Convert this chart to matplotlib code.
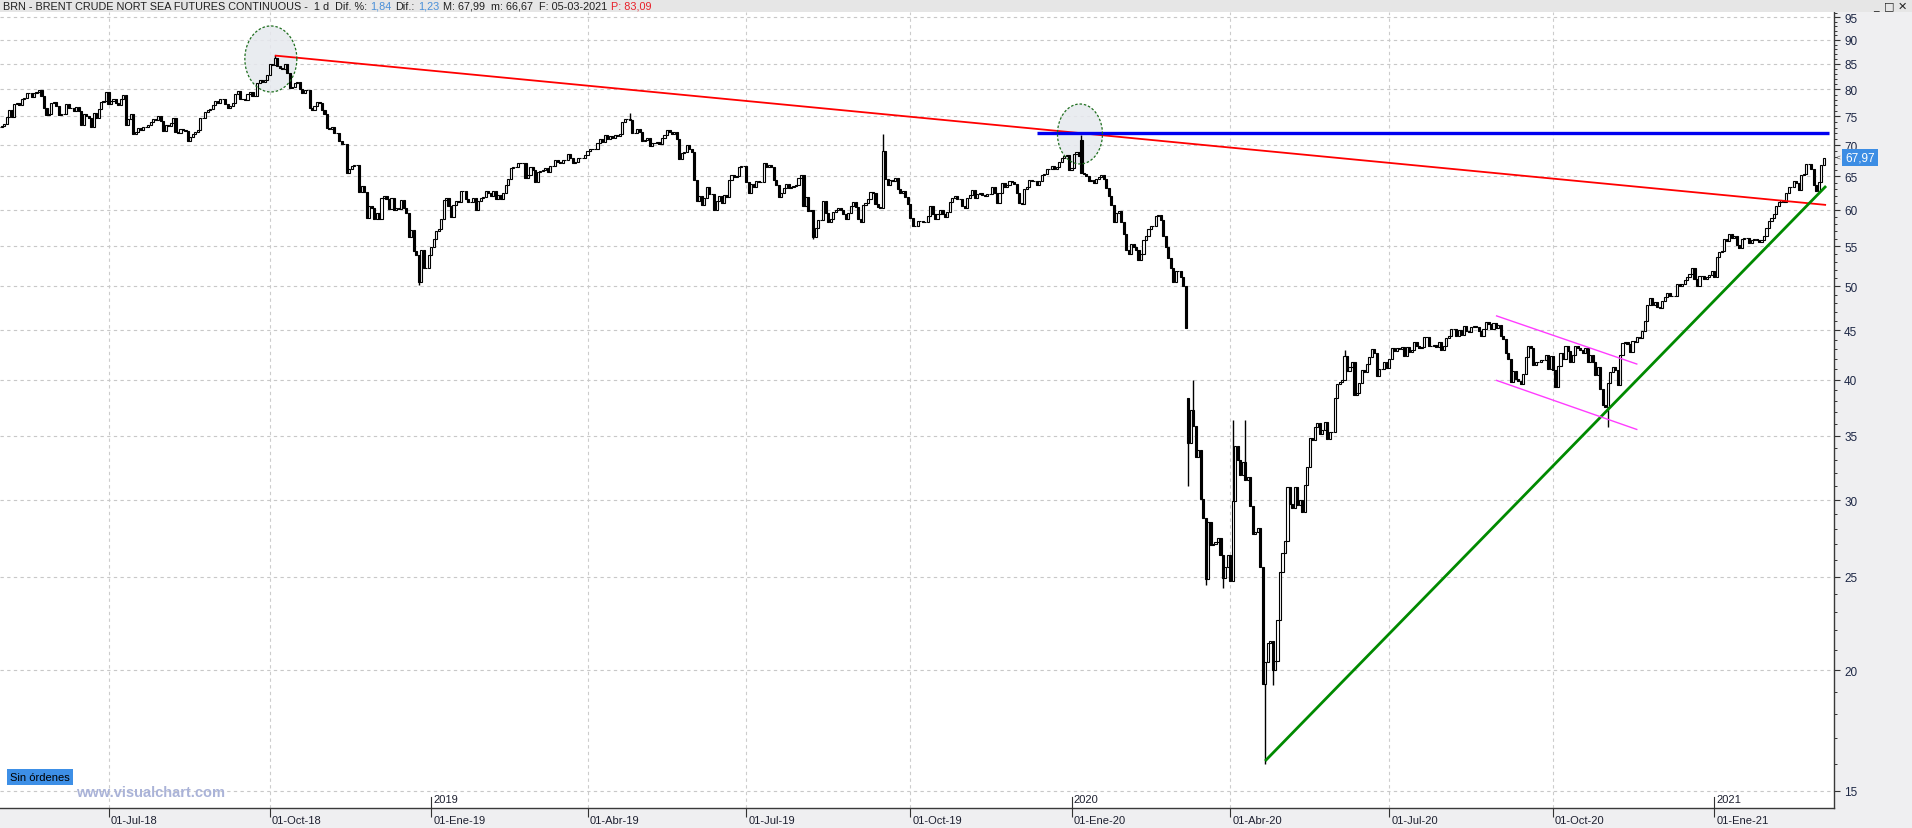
import numpy as np
import pandas as pd
import matplotlib
matplotlib.use("Agg")
import matplotlib.pyplot as plt
from matplotlib.patches import Rectangle
from matplotlib.ticker import FixedLocator, NullFormatter, FuncFormatter
from matplotlib.transforms import offset_copy

plt.rcParams['font.family'] = ['Liberation Sans', 'DejaVu Sans']

W, H = 1912, 829
PLOT_TOP, PLOT_BOTTOM, PLOT_RIGHT = 13, 809, 1834

# daily closes, one line per month (first bar: 01-May-2018)
close_2018 = [
    73.13, 73.36, 73.62, 74.87, 76.17, 74.85, 77.21, 77.47, 77.12, 78.23, 78.43, 79.28, 79.30, 78.51, 79.22, 79.57, 79.80, 78.79, 76.44, 75.30, 75.39, 77.50, 77.59,
    76.79, 75.29, 75.38, 75.36, 77.32, 76.46, 76.46, 75.88, 76.74, 75.94, 73.44, 75.34, 75.08, 74.74, 73.05, 75.55, 74.73, 76.31, 77.62, 77.85, 79.44,
    77.30, 77.76, 78.24, 77.39, 77.11, 78.07, 78.86, 73.40, 74.45, 75.33, 71.84, 72.16, 72.90, 72.58, 73.07, 73.06, 73.44, 73.93, 74.54, 74.29, 74.97, 74.25,
    72.39, 73.45, 73.21, 73.75, 74.65, 72.28, 72.07, 72.81, 72.61, 72.46, 70.76, 71.43, 71.83, 72.21, 72.63, 74.78, 74.73, 75.82, 76.21, 76.31, 77.14, 77.77, 77.42,
    78.15, 78.17, 77.27, 76.50, 76.83, 77.37, 79.06, 79.74, 78.18, 78.09, 78.05, 79.03, 79.40, 78.70, 78.80, 81.20, 81.87, 81.34, 81.72, 82.72,
    84.98, 84.80, 86.29, 84.58, 84.16, 83.91, 84.99, 83.09, 80.26, 80.43, 81.14, 81.41, 80.05, 79.29, 79.78, 79.83, 76.44, 76.17, 76.89, 77.62, 77.34, 76.17, 75.47,
    72.89, 72.83, 73.17, 72.13, 72.07, 70.65, 70.18, 70.12, 65.47, 66.12, 66.62, 66.76, 66.79, 62.53, 63.48, 62.60, 58.80, 60.48, 60.21, 58.76, 59.51, 58.71,
    61.69, 62.08, 61.56, 60.06, 61.67, 59.97, 60.20, 60.15, 61.45, 60.28, 59.61, 56.26, 57.24, 54.35, 53.82, 50.47, 54.47, 52.16, 52.20, 53.80,
]
close_2019 = [
    54.91, 55.95, 57.06, 57.33, 58.72, 61.44, 61.68, 60.48, 58.99, 60.64, 61.32, 61.18, 62.70, 62.74, 61.50, 61.14, 61.09, 61.64, 59.93, 61.32, 61.65, 61.89,
    62.75, 62.51, 61.98, 62.69, 61.63, 62.10, 61.51, 62.42, 63.61, 64.57, 66.25, 66.50, 66.45, 67.08, 67.07, 67.12, 64.76, 65.21, 66.39, 66.03,
    64.07, 65.67, 65.86, 65.99, 66.30, 65.74, 66.58, 66.67, 67.55, 67.23, 67.16, 67.54, 67.61, 68.50, 67.86, 67.03, 67.21, 67.97, 67.83, 67.82, 68.39,
    69.01, 69.37, 69.31, 69.40, 70.34, 71.10, 70.61, 71.73, 71.02, 71.55, 71.18, 71.72, 71.62, 71.97, 74.04, 74.51, 74.57, 74.35, 72.15, 72.04, 72.80,
    72.18, 70.75, 70.85, 71.24, 69.88, 70.37, 70.39, 70.62, 70.23, 71.24, 71.77, 72.62, 72.21, 71.97, 72.18, 70.99, 67.76, 68.69, 68.90, 70.11, 69.45, 68.87, 64.49,
    61.28, 61.97, 60.63, 61.67, 63.29, 62.29, 62.29, 59.97, 61.31, 62.01, 60.94, 62.14, 61.82, 64.45, 65.20, 64.86, 65.05, 66.49, 66.55, 66.55,
    64.06, 62.40, 63.82, 63.30, 64.23, 64.11, 64.16, 67.01, 66.52, 66.72, 66.48, 64.35, 63.66, 61.93, 62.47, 63.26, 63.83, 63.18, 63.39, 63.46, 63.71, 64.72, 65.17,
    60.50, 61.89, 59.81, 60.02, 56.23, 57.38, 58.53, 58.57, 61.30, 59.48, 58.23, 58.64, 59.74, 60.03, 60.30, 59.92, 59.34, 58.70, 59.51, 60.49, 61.08, 60.43,
    58.66, 58.26, 60.70, 60.95, 61.54, 62.59, 62.38, 60.81, 60.38, 60.22, 69.02, 64.55, 63.60, 64.40, 64.28, 64.77, 63.10, 62.39, 62.74, 61.91, 60.78,
    58.89, 57.69, 57.71, 58.37, 58.35, 58.24, 58.32, 59.10, 60.51, 59.35, 58.74, 59.42, 59.91, 59.42, 58.96, 59.70, 61.17, 61.67, 62.02, 61.57, 61.59, 60.61, 60.23,
    61.69, 62.13, 62.96, 61.74, 62.29, 62.51, 62.18, 62.06, 62.37, 62.28, 63.30, 62.44, 60.91, 62.40, 63.97, 63.39, 63.65, 64.27, 64.06, 63.87, 62.43,
    60.92, 60.82, 62.99, 63.39, 64.39, 64.25, 64.34, 63.72, 64.20, 65.22, 65.34, 66.10, 66.17, 66.54, 66.14, 66.39, 67.20, 67.92, 68.16, 68.44, 66.00,
]
close_2020 = [
    66.25, 68.60, 68.91, 68.27, 65.44, 65.37, 64.98, 64.20, 64.49, 64.00, 64.62, 64.85, 65.20, 64.59, 63.21, 62.04, 60.69, 58.32, 59.51, 59.81, 58.29, 56.62,
    54.45, 53.96, 55.28, 54.93, 54.47, 53.27, 54.01, 55.79, 56.34, 57.32, 57.67, 57.75, 59.12, 59.31, 58.50, 56.30, 54.95, 53.43, 52.18, 50.52,
    51.90, 51.86, 51.13, 49.99, 45.27, 34.36, 37.22, 35.79, 33.22, 33.85, 30.05, 28.73, 24.88, 28.47, 26.98, 27.03, 27.15, 27.39, 26.34, 24.93, 25.60, 26.35,
    24.74, 29.94, 34.11, 33.05, 31.87, 32.84, 31.48, 31.74, 29.60, 27.69, 27.82, 28.08, 25.57, 19.33, 20.37, 21.33, 21.44, 19.99, 20.46, 22.54, 25.27,
    26.44, 27.20, 30.97, 29.72, 29.46, 30.97, 29.63, 29.98, 29.19, 31.13, 32.50, 34.81, 34.65, 35.75, 36.06, 35.13, 35.50, 36.17, 34.74, 35.29, 35.33,
    38.32, 39.57, 39.79, 39.99, 42.30, 40.80, 41.18, 41.73, 38.55, 38.73, 39.72, 40.96, 40.71, 41.51, 42.19, 43.08, 42.63, 40.31, 41.05, 41.02, 41.71, 41.15,
    42.03, 43.14, 42.80, 43.10, 43.08, 43.29, 42.35, 43.24, 42.72, 42.90, 43.79, 43.37, 43.14, 43.28, 44.32, 44.29, 43.31, 43.34, 43.41, 43.22, 43.75, 42.94, 43.30,
    44.15, 44.43, 45.17, 45.09, 44.40, 44.99, 44.50, 45.43, 44.96, 44.80, 45.37, 45.46, 45.37, 44.90, 44.35, 45.13, 45.86, 45.64, 45.09, 45.81, 45.28,
    45.58, 44.43, 44.07, 42.66, 42.01, 39.78, 40.79, 40.06, 39.83, 39.61, 40.53, 42.22, 43.30, 43.15, 41.44, 41.72, 41.77, 41.94, 41.92, 42.43, 41.03, 42.30,
    40.93, 39.27, 41.29, 42.65, 41.99, 43.34, 42.85, 41.72, 42.45, 43.32, 43.16, 42.93, 42.62, 43.16, 41.73, 42.46, 41.77, 40.46, 41.20, 39.12, 37.65, 37.46,
    39.71, 40.71, 41.23, 40.93, 39.45, 42.40, 43.61, 43.80, 43.53, 42.78, 43.82, 43.75, 44.34, 44.20, 44.96, 46.06, 47.86, 48.61, 47.80, 48.18, 47.59,
    47.42, 48.25, 48.71, 49.25, 48.79, 48.84, 48.86, 50.25, 49.97, 50.29, 50.76, 51.08, 51.50, 52.26, 50.91, 50.08, 51.20, 51.29, 50.86, 51.09, 51.34, 51.80,
]
close_2021 = [
    51.09, 53.60, 54.30, 54.38, 55.99, 55.66, 56.58, 56.06, 56.42, 55.10, 54.75, 55.90, 56.08, 56.10, 55.41, 55.88, 55.91, 55.81, 55.53, 55.88,
    56.35, 57.46, 58.46, 58.84, 59.34, 60.56, 61.09, 61.47, 61.14, 62.43, 63.30, 63.35, 64.34, 63.93, 62.91, 65.24, 65.37, 66.99, 66.88, 66.13,
    63.69, 62.70, 64.07, 66.74, 67.97,
]

# days without session
holidays = ["2018-12-25", "2019-01-01", "2019-04-19", "2019-12-25",
            "2020-01-01", "2020-04-10", "2020-12-25", "2021-01-01"]

# opens that gap away from the previous close, and visible wick extremes
open_fix = {"2020-01-08": 70.9, "2020-03-09": 38.3}
wick_high = {"2018-10-03": 86.74, "2019-04-25": 75.6, "2019-09-16": 71.95, "2020-01-08": 71.75,
             "2020-03-11": 40.0, "2020-04-02": 36.3, "2020-04-09": 36.3, "2020-06-05": 42.9}
wick_low = {"2018-12-24": 50.2, "2019-08-07": 55.9, "2020-03-09": 31.0, "2020-03-18": 24.5,
            "2020-03-27": 24.3, "2020-04-22": 15.98, "2020-04-27": 19.3, "2020-11-02": 35.74}

# drawn studies: (date, price) endpoints
red_line = [("2018-10-03", 86.7), ("2021-03-08", 60.7)]
blue_line = [("2019-12-11", 72.0), ("2021-03-09", 72.0)]
green_line = [("2020-04-22", 16.1), ("2021-03-08", 63.5)]
pink_upper = [("2020-08-31", 46.6), ("2020-11-18", 41.5)]
pink_lower = [("2020-08-31", 39.95), ("2020-11-18", 35.5)]
circles = [("2018-10-01", 86.0), ("2020-01-07", 71.9)]

y_ticks = [15, 20, 25, 30, 35, 40, 45, 50, 55, 60, 65, 70, 75, 80, 85, 90, 95]
meses = {1: "Ene", 4: "Abr", 7: "Jul", 10: "Oct"}

header_parts = [
    ("BRN - BRENT CRUDE NORT SEA FUTURES CONTINUOUS -  1 d  Dif. %:", "#202020"),
    ("1,84", "#4a90d9"),
    ("Dif.:", "#202020"),
    ("1,23", "#4a90d9"),
    ("M: 67,99  m: 66,67  F: 05-03-2021", "#202020"),
    ("P: 83,09", "#e8202a"),
]

# ---------------------------------------------------------------
cal = pd.bdate_range("2018-04-02", "2021-03-31", freq="C", holidays=holidays)
start = cal.get_loc(pd.Timestamp("2018-05-01"))


def pos(d):
    return cal.get_loc(pd.Timestamp(d)) - start


closes = np.array(close_2018 + close_2019 + close_2020 + close_2021)
n = len(closes)
x = np.arange(n)

opens = np.r_[closes[0], closes[:-1]]
for d, v in open_fix.items():
    opens[pos(d)] = v
highs = np.maximum(opens, closes)
lows = np.minimum(opens, closes)
for d, v in wick_high.items():
    highs[pos(d)] = max(highs[pos(d)], v)
for d, v in wick_low.items():
    lows[pos(d)] = min(lows[pos(d)], v)

fig = plt.figure(figsize=(W / 100, H / 100), dpi=100, facecolor="#efeff1")
ax = fig.add_axes([0, (H - PLOT_BOTTOM) / H, PLOT_RIGHT / W, (PLOT_BOTTOM - PLOT_TOP) / H])
ax.set_facecolor("white")
ax.set_yscale("log")
x0, x1 = 0.28, 739.2
y0, y1 = 14.39, 96.2

# candles
up = closes >= opens
body_lo = np.minimum(opens, closes)
body_h = np.maximum(np.abs(closes - opens), 0.03)
ax.vlines(x, lows, highs, color="black", lw=1.0, zorder=3)
ax.bar(x[up], body_h[up], bottom=body_lo[up], width=0.85, facecolor="white",
       edgecolor="black", linewidth=0.8, zorder=4)
ax.bar(x[~up], body_h[~up], bottom=body_lo[~up], width=0.85, facecolor="black",
       edgecolor="black", linewidth=0.8, zorder=4)


def seg(line, **kw):
    (da, pa), (db, pb) = line
    ax.plot([pos(da), pos(db)], [pa, pb], solid_capstyle="butt", zorder=5, **kw)


seg(red_line, color="#ff0000", lw=1.3)
seg(blue_line, color="#0000f0", lw=2.4)
seg(green_line, color="#008a00", lw=2.0)
seg(pink_upper, color="#ff3cff", lw=1.0)
seg(pink_lower, color="#ff3cff", lw=1.0)

# ellipses around the two tops (sizes in pixels)
px_bar = PLOT_RIGHT / (x1 - x0)
px_ln = (PLOT_BOTTOM - PLOT_TOP) / np.log(y1 / y0)
t = np.linspace(0, 2 * np.pi, 200)
for (d, p), (hw, hh) in zip(circles, [(26, 33), (22.5, 30)]):
    cx = pos(d) + 0.4
    xs = cx + hw / px_bar * np.cos(t)
    ys = p * np.exp(hh / px_ln * np.sin(t))
    ax.fill(xs, ys, facecolor="#e6e9ee", alpha=0.85, edgecolor="none", zorder=2)
    ax.plot(xs, ys, color="#1f6f1f", lw=0.9, ls=(0, (2, 1.5)), zorder=6)

ax.set_xlim(x0, x1)
ax.set_ylim(y0, y1)

# price axis on the right
ax.yaxis.tick_right()
ax.yaxis.set_major_locator(FixedLocator(y_ticks))
ax.yaxis.set_major_formatter(FuncFormatter(lambda v, p: f"{v:.0f}"))
ax.yaxis.set_minor_locator(FixedLocator([v for v in range(15, 97) if v % 5]))
ax.yaxis.set_minor_formatter(NullFormatter())
ax.tick_params(axis="y", which="major", direction="out", length=4.3, width=0.8,
               color="#333333", labelcolor="#1d2745", labelsize=8.5, pad=3)
ax.tick_params(axis="y", which="minor", direction="out", length=2.5, width=0.7, color="#333333")
ax.yaxis.grid(True, which="major", color="#c8c8c8", ls=(0, (3, 3)), lw=0.8)
ax.set_axisbelow(True)
for s in ("left", "top"):
    ax.spines[s].set_visible(False)
for s in ("right", "bottom"):
    ax.spines[s].set_color("#3a3a3a")
    ax.spines[s].set_linewidth(1.0)

# date axis: first session of each quarter
q_pos, q_lab, q_year = [], [], []
for d in cal:
    key = (d.year, d.month)
    if d.month in meses and key not in q_year:
        q_year.append(key)
        q_pos.append(cal.get_loc(d) - start)
        q_lab.append(f"01-{meses[d.month]}-{d.year % 100:02d}")

ax.set_xticks([p for p in q_pos if p >= x0])
ax.tick_params(axis="x", direction="out", length=6.5, width=0.8, color="#333333", labelbottom=False)
xt = ax.get_xaxis_transform()
lab_tr = offset_copy(xt, fig=fig, x=2, y=-12.5, units="dots")
year_tr = offset_copy(xt, fig=fig, x=2, y=9, units="dots")
for p, lab, (yr, m) in zip(q_pos, q_lab, q_year):
    ax.text(p, 0, lab, transform=lab_tr, ha="left", va="center", fontsize=8,
            color="#1d2030", clip_on=False)
    if m == 1:
        ax.plot([p, p], [0, 11 / (PLOT_BOTTOM - PLOT_TOP)], transform=xt, color="#333333",
                lw=0.8, clip_on=False, zorder=7)
        ax.text(p, 0, str(yr), transform=year_tr, ha="left", va="center", fontsize=8,
                color="#1d2030", clip_on=False)
    else:
        ax.axvline(p, color="#cccccc", ls=(0, (3, 3)), lw=0.8, zorder=0.5)

# last price tag
last = closes[-1]
ax.annotate(f"{last:.2f}".replace(".", ","), xy=(1, last), xycoords=("axes fraction", "data"),
            xytext=(11, 0), textcoords="offset pixels", ha="left", va="center",
            color="white", fontsize=8.5,
            bbox=dict(boxstyle="square,pad=0.25", fc="#3c8de4", ec="none"),
            annotation_clip=False)
ax.annotate("<", xy=(1, last), xycoords=("axes fraction", "data"), xytext=(2, 0),
            textcoords="offset pixels", ha="left", va="center", fontsize=6,
            color="#444444", annotation_clip=False)

# window header
fig.patches.append(Rectangle((0, 1 - PLOT_TOP / H), 1, PLOT_TOP / H, transform=fig.transFigure,
                             facecolor="#e6e6e6", edgecolor="none", zorder=10))
r = fig.canvas.get_renderer()
hx = 3
for s, c in header_parts:
    tx = fig.text(hx / W, 1 - 6.5 / H, s, color=c, fontsize=7.8, ha="left", va="center", zorder=11)
    hx += tx.get_window_extent(r).width + 3.5
for bx, s in [(1876, "_"), (1889, "□"), (1902, "✕")]:
    fig.text(bx / W, 1 - 6.5 / H, s, color="#222222", fontsize=8, ha="center", va="center",
             zorder=11, family="DejaVu Sans")

fig.text(10 / W, 1 - 778 / H, "Sin órdenes", fontsize=8, color="black", ha="left", va="center",
         bbox=dict(boxstyle="square,pad=0.3", fc="#3d8fe6", ec="none"), zorder=12)
fig.text(76 / W, 1 - 793 / H, "www.visualchart.com", fontsize=10.5, fontweight="bold",
         color="#aab3d8", ha="left", va="center", zorder=12)

fig.savefig("out.png", dpi=100, facecolor=fig.get_facecolor())
